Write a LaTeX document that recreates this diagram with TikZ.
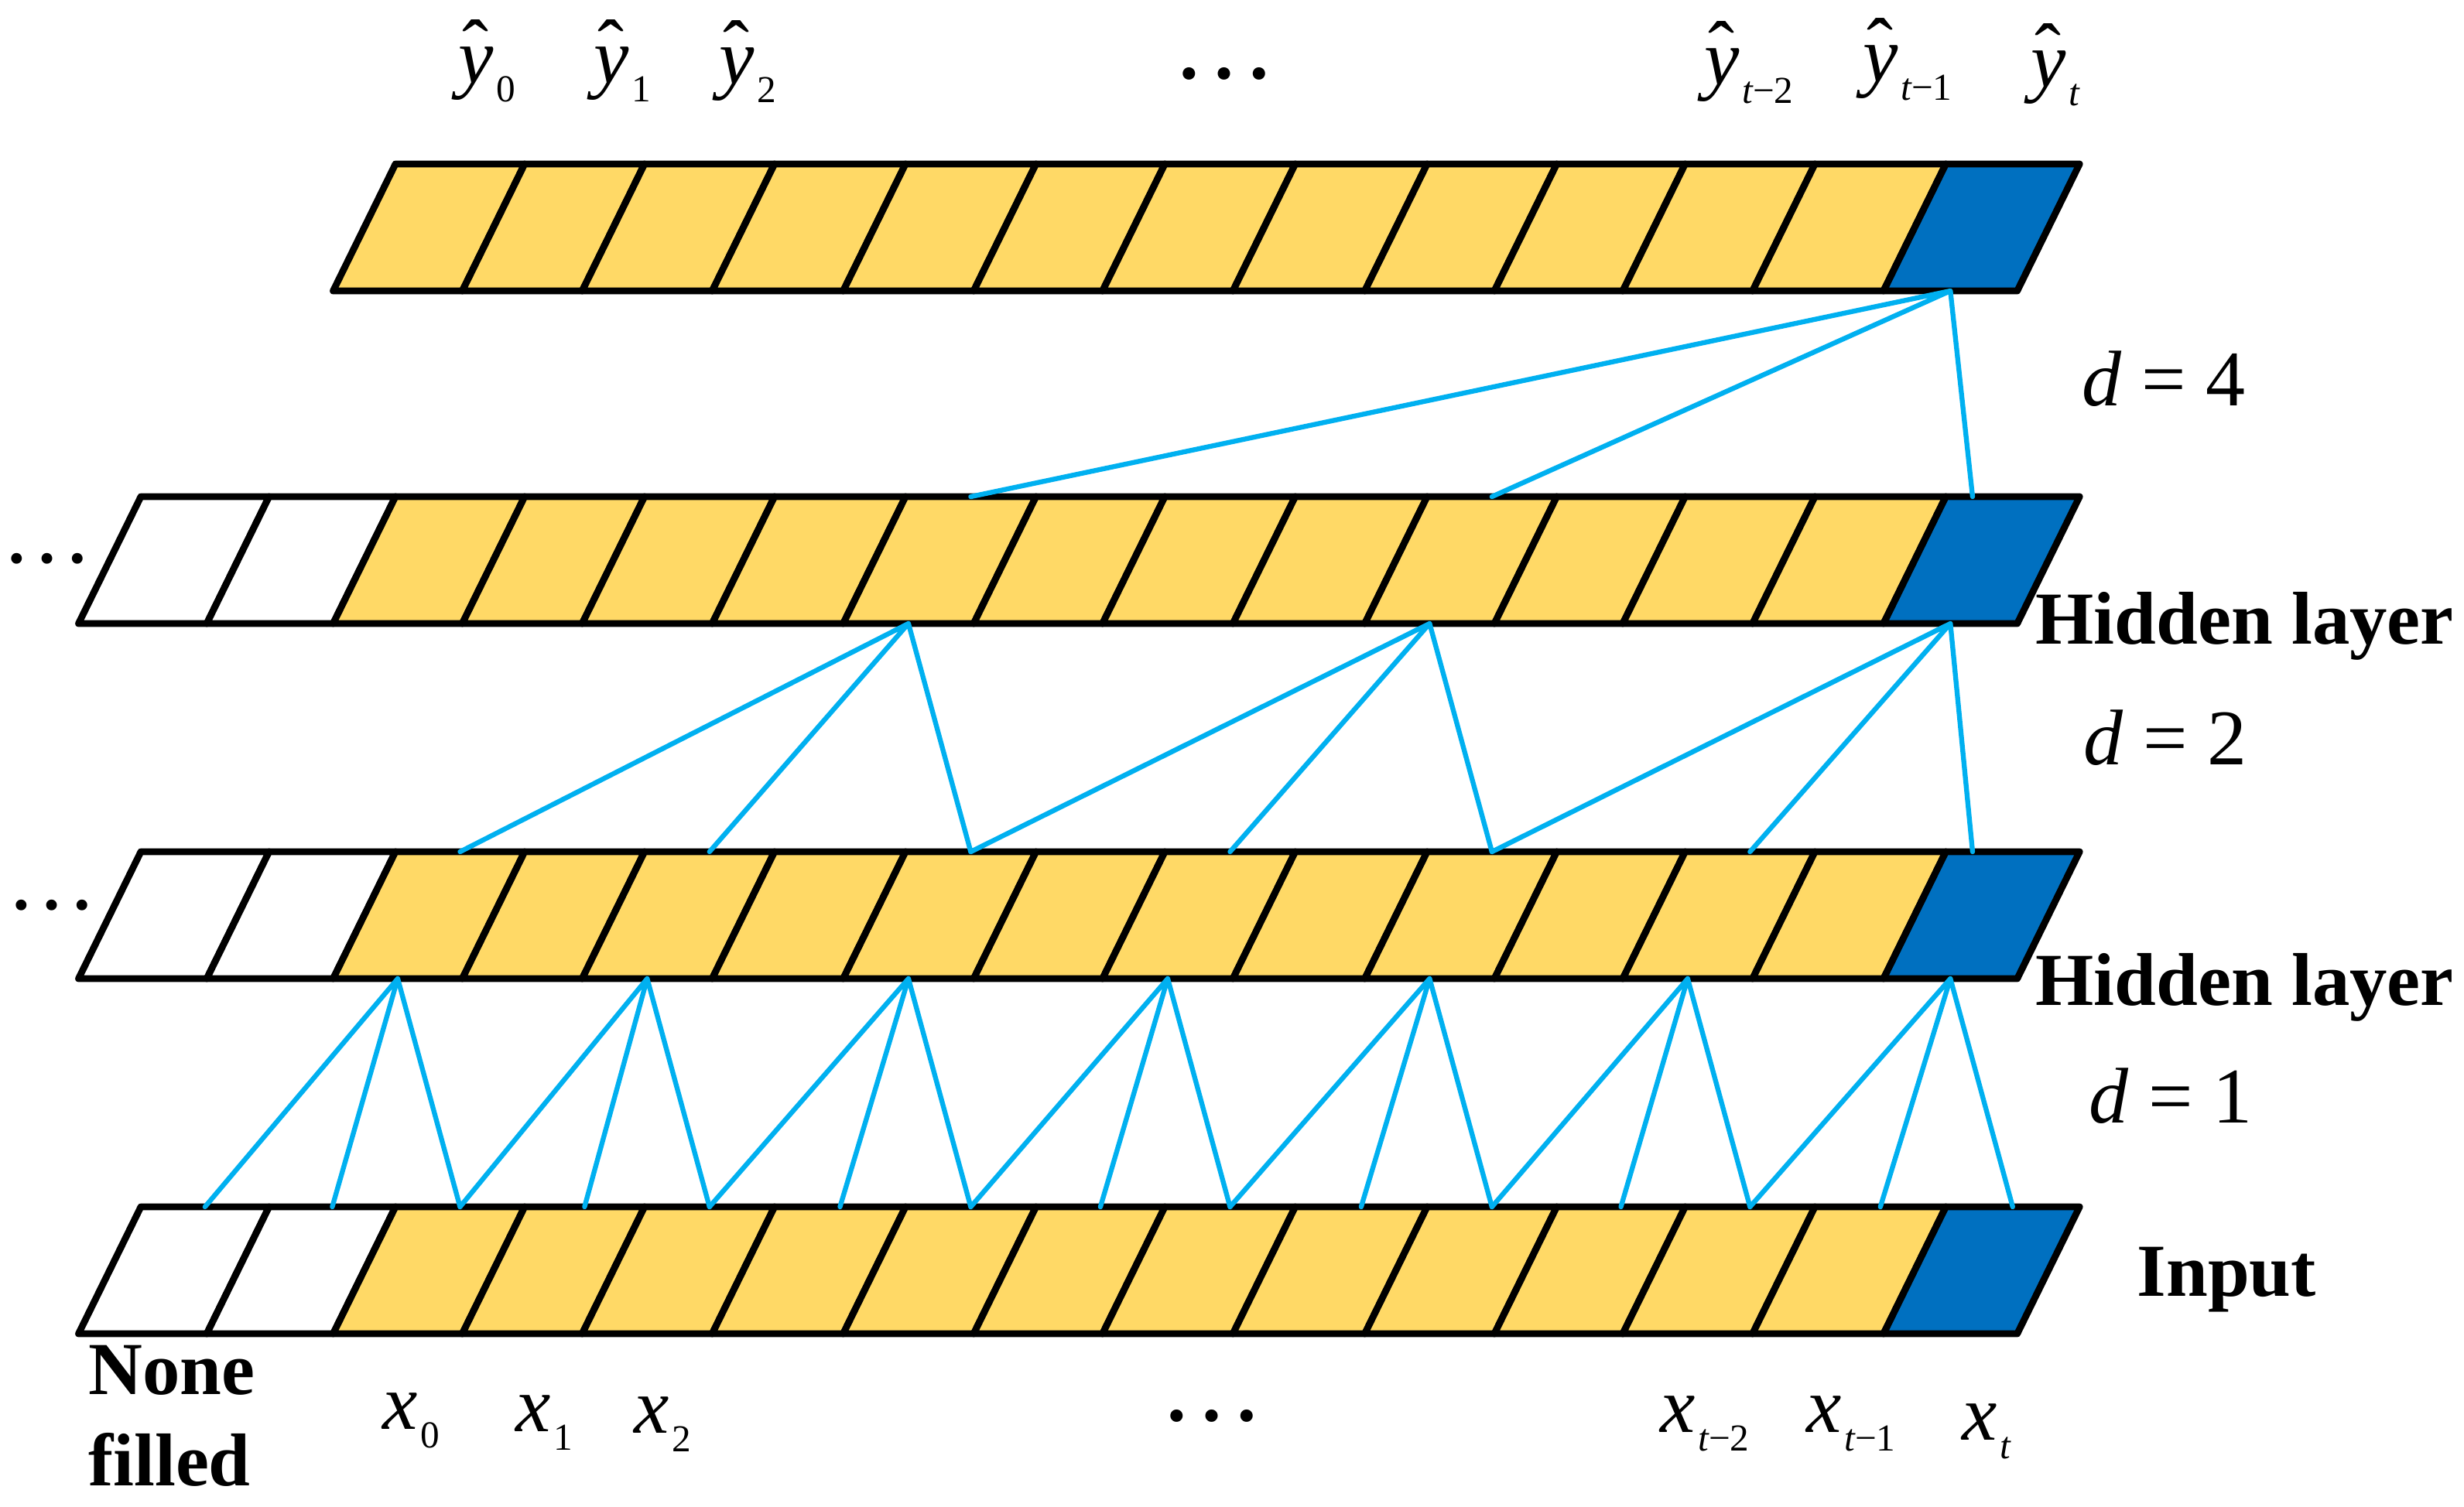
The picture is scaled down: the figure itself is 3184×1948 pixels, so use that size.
\documentclass[tikz,border=0pt]{standalone}
\usepackage{fontspec}
\setmainfont{Liberation Serif}
\definecolor{cellyellow}{HTML}{FFD966}
\definecolor{cellblue}{HTML}{0070C0}
\definecolor{linkblue}{HTML}{00B0F0}
\newcommand\lblsize{\fontsize{29}{32}\selectfont}
\newcommand\boldlbl{\fontsize{27.5}{33.6}\selectfont\bfseries}
\newcommand\subsz{\fontsize{14}{16}\selectfont}
\newcommand\mysub[1]{\hspace{1pt}\raisebox{-7.1pt}{\subsz #1}}
\newcommand\yhat{\makebox[0pt][l]{\hspace*{0.05em}\raisebox{0.1em}{\upshape ˆ}}{\itshape y}}
\newcommand\yl[1]{\yhat\mysub{#1}}
\newcommand\xl[1]{{\itshape x}\mysub{#1}}
\def\celllist{0/101.5/267.2/white,1/267.2/430.5/white,2/430.5/597.4/cellyellow,3/597.4/752.3/cellyellow,4/752.3/920.3/cellyellow,5/920.3/1089.6/cellyellow,6/1089.6/1258.2/cellyellow,7/1258.2/1424.7/cellyellow,8/1424.7/1593.2/cellyellow,9/1593.2/1763.6/cellyellow,10/1763.6/1931.1/cellyellow,11/1931.1/2097.0/cellyellow,12/2097.0/2264.7/cellyellow,13/2264.7/2433.9/cellyellow,14/2433.9/2606.7/cellblue}
\begin{document}
\begin{tikzpicture}[x=0.01cm,y=-0.01cm,
  cell/.style={draw=black, line width=2.5pt, line join=round},
  link/.style={draw=linkblue, line width=1.8pt, line cap=round},
  lbl/.style={inner sep=0pt, anchor=base west, font=\lblsize},
  boldlab/.style={inner sep=0pt, anchor=base west, font=\boldlbl},
  dotsl/.style={inner sep=0pt, anchor=base}]
\path[use as bounding box] (0,0) rectangle (3184,1948);

% rows of cells and their connection points
\foreach \r/\T/\ks in {1/212/2, 2/642/0, 3/1101/0, 4/1560/0} {
  \foreach \k/\bl/\br/\c in \celllist {
    \ifnum\k<\ks\relax\else
      \filldraw[cell, fill=\c] (\bl,{\T+164}) -- (\br,{\T+164}) -- ({\br+80.5},\T) -- ({\bl+80.5},\T) -- cycle;
      \coordinate (r\r t\k) at ({(\bl+\br)/2+80.5},\T);
      \coordinate (r\r b\k) at ({(\bl+\br)/2},{\T+164});
    \fi
  }
}
\coordinate (r2t14x) at ({2433.9+80.5+0.2*(2606.7-2433.9)},642);
\coordinate (r3t14x) at ({2433.9+80.5+0.2*(2606.7-2433.9)},1101);

% d = 1
\foreach \a/\p/\q in {2/0/1, 4/2/3, 6/4/5, 8/6/7, 10/8/9, 12/10/11, 14/12/13} {
  \draw[link] (r3b\a) -- (r4t\p) (r3b\a) -- (r4t\q) (r3b\a) -- (r4t\a);
}
% d = 2
\draw[link] (r2b6) -- (r3t2) (r2b6) -- (r3t4) (r2b6) -- (r3t6);
\draw[link] (r2b10) -- (r3t6) (r2b10) -- (r3t8) (r2b10) -- (r3t10);
\draw[link] (r2b14) -- (r3t10) (r2b14) -- (r3t12) (r2b14) -- (r3t14x);
% d = 4
\draw[link] (r1b14) -- (r2t6) (r1b14) -- (r2t10) (r1b14) -- (r2t14x);

% output labels
\node[lbl] (y0) at (592,107) {\yl{0}};
\node[lbl] (y1) at (767,107) {\yl{1}};
\node[lbl] (y2) at (929,108) {\yl{2}};
\node[dotsl, font=\fontsize{38.4}{40}\selectfont] (ydots) at (1582,101) {…};
\node[lbl] (ytm2) at (2202,109) {\yl{{\itshape t}−2}};
\node[lbl] (ytm1) at (2407,105) {\yl{{\itshape t}−1}};
\node[lbl] (yt) at (2624,112) {\yl{{\itshape t}}};

% input labels
\node[lbl] (x0) at (494,1847) {\xl{0}};
\node[lbl] (x1) at (666,1850) {\xl{1}};
\node[lbl] (x2) at (819,1852) {\xl{2}};
\node[dotsl, font=\fontsize{38.4}{40}\selectfont] (xdots) at (1566,1836) {…};
\node[lbl] (xtm2) at (2145,1851) {\xl{{\itshape t}−2}};
\node[lbl] (xtm1) at (2334,1851) {\xl{{\itshape t}−1}};
\node[lbl] (xt) at (2535,1861) {\xl{{\itshape t}}};

% left dots
\node[dotsl, font=\fontsize{33.3}{36}\selectfont] (ldots2) at (61,727) {…};
\node[dotsl, font=\fontsize{33.3}{36}\selectfont] (ldots3) at (67,1175) {…};

% dilation labels
\node[lbl] (d4) at (2690,524) {{\itshape d} = 4};
\node[lbl] (d2) at (2692,988) {{\itshape d} = 2};
\node[lbl] (d1) at (2699,1451) {{\itshape d} = 1};

% layer labels
\node[boldlab] (hid1) at (2630,832) {Hidden layer};
\node[boldlab] (hid2) at (2630,1299) {Hidden layer};
\node[boldlab] (inp) at (2761,1675) {Input};
\node[boldlab] (none) at (113.5,1802) {\begin{tabular}[t]{@{}l@{}}None\\filled\end{tabular}};
\end{tikzpicture}
\end{document}
